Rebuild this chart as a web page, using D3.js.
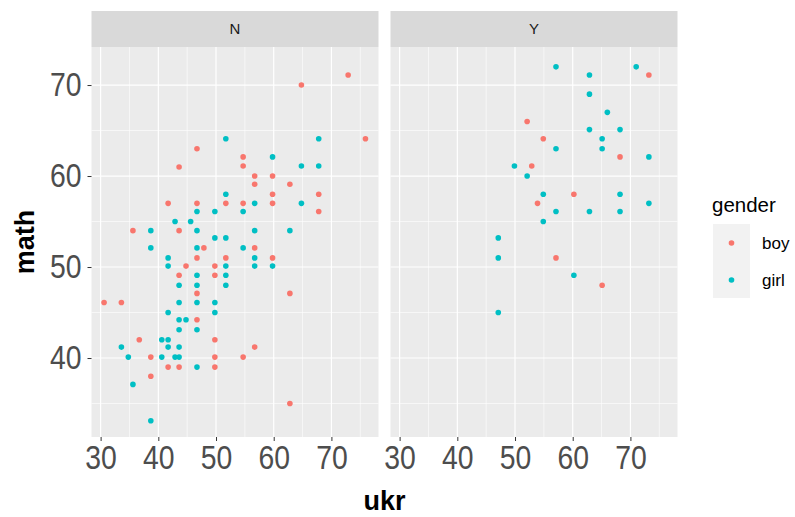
<!DOCTYPE html>
<html>
<head>
<meta charset="utf-8">
<script src="https://cdn.jsdelivr.net/npm/d3@7"></script>
<style>
  body { margin: 0; background: #fff; }
  svg text { font-family: "Liberation Sans", Arial, sans-serif; }
</style>
</head>
<body>
<div id="chart"></div>
<script>
// facet N
var nBoyUkr  = [46.7,43.6,41.7,46.7,51.7,35.6,43.6,72.9,64.8,75.9,54.7,54.7,56.7,59.8,56.7,62.8,59.8,67.8,54.7,59.8,67.8,
                47.9,46.7,51.7,44.8,49.8,43.6,49.8,46.7,30.6,33.6,46.7,36.7,49.8,38.7,49.8,41.7,43.6,49.8,38.7,
                56.7,59.8,62.8,56.7,54.7,62.8];
var nBoyMath = [63,61,57,57,57,54,54,71.1,70,64.1,62.1,61.1,60,60,59.1,59.1,58,58,57,57,56.1,
                52.1,51,51,50.1,50.1,49.1,49.1,47.1,46.1,46.1,44.2,42,42,40.1,40.1,39,39,39,38,
                52.1,51,47.1,41.2,40.1,35];
var nGirlUkr  = [51.7,51.7,46.7,49.8,42.9,45.6,38.7,46.7,49.8,51.7,67.8,59.8,64.8,67.8,56.7,64.8,54.7,56.7,62.8,
                 38.7,46.7,41.7,41.7,51.7,46.7,51.7,43.6,46.7,51.7,43.6,46.7,49.8,41.7,49.8,43.6,44.8,43.6,46.7,
                 40.6,41.7,33.6,41.7,43.6,34.8,40.6,42.9,43.6,46.7,35.6,38.7,54.7,56.7,56.7,59.8];
var nGirlMath = [64.1,58,56.1,56.1,55,55,54,54,53.2,53.2,64.1,62.1,61.1,61.1,57,57,56.1,54,54,
                 52.1,52.1,51,50.1,50.1,49.1,49.1,48,48,48,46.1,46.1,46.1,45,45,44.2,44.2,43.1,43.1,
                 42,42,41.2,41.2,41.2,40.1,40.1,40.1,40.1,39,37.1,33.1,52.1,51,50.1,50.1];
// facet Y
var yBoyUkr  = [52.1,52.9,53.9,73.2,54.9,68.2,60.2,57.1,65.1];
var yBoyMath = [66,61.1,57,71.1,64.1,62.1,58,51,48];
var yGirlUkr  = [49.9,52.1,47.1,57.1,62.9,71,62.9,66,62.9,68.2,65.1,57.1,65.1,73.2,54.9,68.2,73.2,57.1,62.9,68.2,54.9,
                 47.1,47.1,60.2];
var yGirlMath = [61.1,60,53.2,72,71.1,72,69,67,65.1,65.1,64.1,63,63,62.1,58,58,57,56.1,56.1,56.1,55,
                 51,45,49.1];

var facets = ["N", "Y"];
var genders = ["boy", "girl"];
var colors = ["#F8766D", "#00BFC4"];
var xTicks = [30, 40, 50, 60, 70];
var yTicks = [40, 50, 60, 70];

var series = {
  N: { boy: [nBoyUkr, nBoyMath], girl: [nGirlUkr, nGirlMath] },
  Y: { boy: [yBoyUkr, yBoyMath], girl: [yGirlUkr, yGirlMath] }
};

var W = 795, H = 517;
var panelTop = 47, panelBottom = 437, panelW = 287, stripH = 36;
var panelLeft = { N: 91.5, Y: 390.5 };
var squeeze = 0.86; // tick labels look condensed

var svg = d3.select("#chart").append("svg")
  .attr("width", W).attr("height", H);

var x = d3.scaleLinear().domain([28.42, 78.16]).range([0, panelW]);
var y = d3.scaleLinear().domain([31.32, 74.18]).range([panelBottom, panelTop]);
var color = d3.scaleOrdinal().domain(genders).range(colors);

var xMinor = d3.range(25, 80, 5).filter(v => v > 28.42 && v < 78.16 && xTicks.indexOf(v) < 0);
var yMinor = d3.range(30, 80, 5).filter(v => v > 31.32 && v < 74.18 && yTicks.indexOf(v) < 0);

facets.forEach(function(f) {
  var g = svg.append("g").attr("transform", "translate(" + panelLeft[f] + ",0)");

  // strip
  g.append("rect").attr("x", 0).attr("y", panelTop - stripH)
    .attr("width", panelW).attr("height", stripH).attr("fill", "#D9D9D9");
  g.append("text").attr("x", panelW / 2).attr("y", panelTop - stripH / 2)
    .attr("text-anchor", "middle").attr("dy", "0.36em")
    .attr("font-size", 15).attr("fill", "#1A1A1A").text(f);

  // panel
  g.append("rect").attr("x", 0).attr("y", panelTop)
    .attr("width", panelW).attr("height", panelBottom - panelTop).attr("fill", "#EBEBEB");

  g.selectAll(".xminor").data(xMinor).enter().append("line")
    .attr("x1", d => x(d)).attr("x2", d => x(d))
    .attr("y1", panelTop).attr("y2", panelBottom)
    .attr("stroke", "#fff").attr("stroke-width", 0.6);
  g.selectAll(".yminor").data(yMinor).enter().append("line")
    .attr("x1", 0).attr("x2", panelW)
    .attr("y1", d => y(d)).attr("y2", d => y(d))
    .attr("stroke", "#fff").attr("stroke-width", 0.6);
  g.selectAll(".xmajor").data(xTicks).enter().append("line")
    .attr("x1", d => x(d)).attr("x2", d => x(d))
    .attr("y1", panelTop).attr("y2", panelBottom)
    .attr("stroke", "#fff").attr("stroke-width", 1.2);
  g.selectAll(".ymajor").data(yTicks).enter().append("line")
    .attr("x1", 0).attr("x2", panelW)
    .attr("y1", d => y(d)).attr("y2", d => y(d))
    .attr("stroke", "#fff").attr("stroke-width", 1.2);

  // x axis
  var xa = g.append("g").attr("transform", "translate(0," + panelBottom + ")")
    .call(d3.axisBottom(x).tickValues(xTicks).tickSize(4).tickPadding(5));
  xa.select(".domain").remove();
  xa.selectAll(".tick line").attr("stroke", "#333").attr("stroke-width", 1);
  xa.selectAll(".tick text").attr("font-size", 33).attr("fill", "#4D4D4D")
    .attr("font-family", "Liberation Sans, Arial, sans-serif")
    .attr("transform", "scale(" + squeeze + ",1)");

  // points
  genders.forEach(function(gd) {
    var s = series[f][gd];
    g.selectAll(".pt-" + gd).data(s[0]).enter().append("circle")
      .attr("cx", d => x(d))
      .attr("cy", (d, i) => y(s[1][i]))
      .attr("r", 2.8)
      .attr("fill", color(gd));
  });
});

// y axis
var ya = svg.append("g").attr("transform", "translate(" + panelLeft.N + ",0)")
  .call(d3.axisLeft(y).tickValues(yTicks).tickSize(4).tickPadding(6));
ya.select(".domain").remove();
ya.selectAll(".tick line").attr("stroke", "#333").attr("stroke-width", 1);
ya.selectAll(".tick text").attr("font-size", 33).attr("fill", "#4D4D4D")
  .attr("font-family", "Liberation Sans, Arial, sans-serif")
  .attr("x", -10 / squeeze)
  .attr("transform", "scale(" + squeeze + ",1)");

// axis titles
svg.append("text").attr("x", (panelLeft.N + panelLeft.Y + panelW) / 2).attr("y", 510)
  .attr("text-anchor", "middle").attr("font-size", 27).attr("font-weight", "bold")
  .attr("fill", "#000").text("ukr");
svg.append("text")
  .attr("transform", "translate(34," + (panelTop + panelBottom) / 2 + ") rotate(-90)")
  .attr("text-anchor", "middle").attr("font-size", 27).attr("font-weight", "bold")
  .attr("fill", "#000").text("math");

// legend
var leg = svg.append("g").attr("transform", "translate(712,0)");
leg.append("text").attr("x", 0).attr("y", 212).attr("font-size", 20.5)
  .attr("fill", "#000").text("gender");
leg.append("rect").attr("x", 1).attr("y", 224).attr("width", 37).attr("height", 74)
  .attr("fill", "#F2F2F2");
genders.forEach(function(gd, i) {
  var cy = 243 + i * 37;
  leg.append("circle").attr("cx", 19.5).attr("cy", cy).attr("r", 2.8).attr("fill", color(gd));
  leg.append("text").attr("x", 50).attr("y", cy).attr("dy", "0.36em")
    .attr("font-size", 17).attr("fill", "#000").text(gd);
});
</script>
</body>
</html>
